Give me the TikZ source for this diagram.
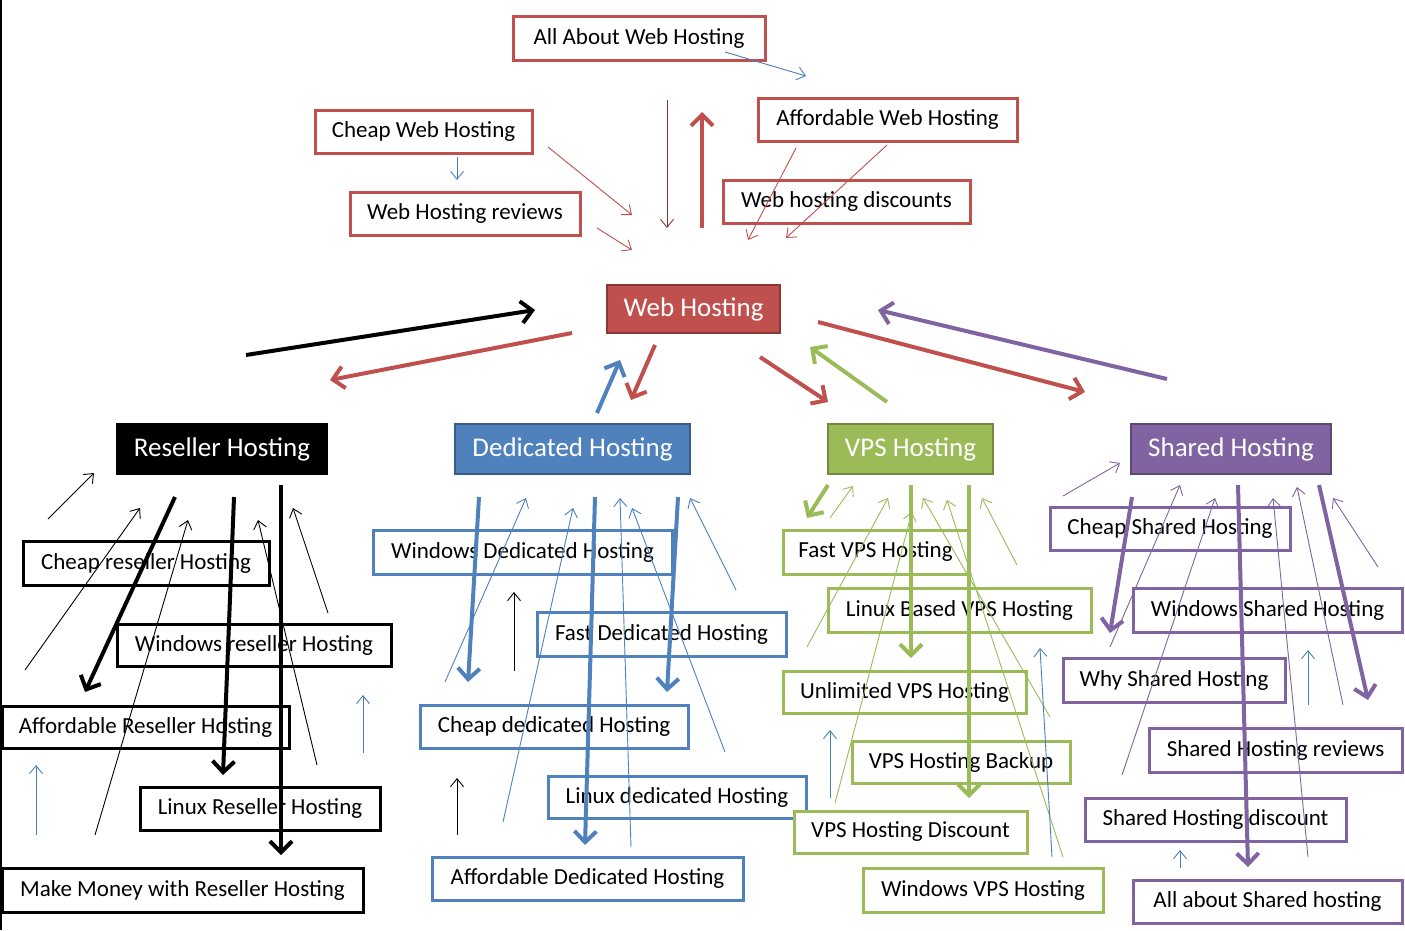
\documentclass[tikz,border=0pt]{standalone}
\usepackage{fontspec}
\setmainfont{Carlito}
\usetikzlibrary{arrows.meta}
\definecolor{cRed}{HTML}{C0504D}
\definecolor{cRedD}{HTML}{8C3836}
\definecolor{cBlue}{HTML}{4F81BD}
\definecolor{cBlueD}{HTML}{385D8A}
\definecolor{cGreen}{HTML}{9BBB59}
\definecolor{cGreenD}{HTML}{71893F}
\definecolor{cPurple}{HTML}{8064A2}
\definecolor{cPurpleD}{HTML}{5C4776}
\definecolor{cSteel}{HTML}{4A7EBB}
\definecolor{cDark}{HTML}{7F3330}
\tikzset{
  bx/.style={draw=#1, line width=3pt, fill=white, inner sep=0pt,
    font=\fontsize{23}{27}\selectfont},
  hub/.style={fill=#1, line width=1.5pt, text=white, inner sep=0pt,
    font=\fontsize{27}{31}\selectfont},
  tarr/.style={draw=#1, line width=0.9pt, -{Straight Barb[length=8pt,width=13pt]}},
  Tarr/.style={draw=#1, line width=4pt, -{Straight Barb[length=11pt,width=22pt]}},
}
\begin{document}
\begin{tikzpicture}[x=1pt,y=-1pt]
\useasboundingbox (0,0) rectangle (1405,930);
\fill[white] (0,0) rectangle (1405,930);
\draw[black, line width=2pt] (1,0) -- (1,930);

% ---------- top level ----------
\node[bx=cRed, minimum width=252pt, minimum height=44pt] (allabout) at (639,38) {All About Web Hosting};
\node[bx=cRed, minimum width=217pt, minimum height=43pt] (cheapweb) at (423.5,131.5) {Cheap Web Hosting};
\node[bx=cRed, minimum width=230pt, minimum height=43pt] (webrev) at (465,213.5) {Web Hosting reviews};
\node[bx=cRed, minimum width=259pt, minimum height=43pt] (affweb) at (887.5,119.5) {Affordable Web Hosting};
\node[bx=cRed, minimum width=247pt, minimum height=43pt] (webdisc) at (846.5,201.5) {Web hosting discounts};
\node[hub=cRed, draw=cRedD, minimum width=173pt, minimum height=48pt] (web) at (693.5,309) {Web Hosting};

% ---------- hubs ----------
\node[hub=black, draw=black, minimum width=210pt, minimum height=50pt] (reseller) at (222,449) {Reseller Hosting};
\node[hub=cBlue, draw=cBlueD, minimum width=235pt, minimum height=50pt] (dedicated) at (572.5,449) {Dedicated Hosting};
\node[hub=cGreen, draw=cGreenD, minimum width=165pt, minimum height=50pt] (vps) at (910.5,449) {VPS Hosting};
\node[hub=cPurple, draw=cPurpleD, minimum width=200pt, minimum height=50pt] (shared) at (1231,449) {Shared Hosting};

% ---------- reseller children ----------
\node[bx=black, minimum width=246pt, minimum height=44pt] (r1) at (146,563) {Cheap reseller Hosting};
\node[bx=black, minimum width=274pt, minimum height=42pt] (r2) at (254,645) {Windows reseller Hosting};
\node[bx=black, minimum width=287pt, minimum height=42pt] (r3) at (145.5,727) {Affordable Reseller Hosting};
\node[bx=black, minimum width=240pt, minimum height=43pt] (r4) at (260,808.5) {Linux Reseller Hosting};
\node[bx=black, minimum width=361pt, minimum height=44pt] (r5) at (182.5,890) {Make Money with Reseller Hosting};

% ---------- dedicated children ----------
\node[bx=cBlue, minimum width=299pt, minimum height=44pt] (d1) at (522.5,552) {Windows Dedicated Hosting};
\node[bx=cBlue, minimum width=249pt, minimum height=44pt] (d2) at (661.5,634) {Fast Dedicated Hosting};
\node[bx=cBlue, minimum width=268pt, minimum height=43pt] (d3) at (554,726.5) {Cheap dedicated Hosting};
\node[bx=cBlue, minimum width=258pt, minimum height=42pt] (d4) at (677,797) {Linux dedicated Hosting};
\node[bx=cBlue, minimum width=311pt, minimum height=43pt] (d5) at (587.5,878.5) {Affordable Dedicated Hosting};

% ---------- vps children ----------
\node[bx=cGreen, minimum width=185pt, minimum height=44pt] (v1) at (875.5,552) {Fast VPS Hosting};
\node[bx=cGreen, minimum width=263pt, minimum height=44pt] (v2) at (959.5,610) {Linux Based VPS Hosting};
\node[bx=cGreen, minimum width=243pt, minimum height=42pt] (v3) at (904.5,692) {Unlimited VPS Hosting};
\node[bx=cGreen, minimum width=218pt, minimum height=42pt] (v4) at (961,762) {VPS Hosting Backup};
\node[bx=cGreen, minimum width=233pt, minimum height=42pt] (v5) at (910.5,832) {VPS Hosting Discount};
\node[bx=cGreen, minimum width=240pt, minimum height=44pt] (v6) at (983,890) {Windows VPS Hosting};

% ---------- shared children ----------
\node[bx=cPurple, minimum width=240pt, minimum height=43pt] (s1) at (1170,528.5) {Cheap Shared Hosting};
\node[bx=cPurple, minimum width=269pt, minimum height=44pt] (s2) at (1267.5,610) {Windows Shared Hosting};
\node[bx=cPurple, minimum width=222pt, minimum height=44pt] (s3) at (1174,680) {Why Shared Hosting};
\node[bx=cPurple, minimum width=253pt, minimum height=44pt] (s4) at (1275.5,750) {Shared Hosting reviews};
\node[bx=cPurple, minimum width=261pt, minimum height=43pt] (s5) at (1215.5,819.5) {Shared Hosting discount};
\node[bx=cPurple, minimum width=269pt, minimum height=43pt] (s6) at (1267.5,901.5) {All about Shared hosting};

% ---------- top arrows ----------
\draw[tarr=cSteel] (725,52) -- (806,76);
\draw[tarr=cSteel] (457,157) -- (457,180);
\draw[tarr=cRed] (548,147) -- (632,215);
\draw[tarr=cRed] (597,228) -- (632,250);
\draw[tarr=cDark] (667,100) -- (667,228);
\draw[Tarr=cRed] (702,228) -- (702,112);
\draw[tarr=cRed] (796,148) -- (748,240);
\draw[tarr=cRed] (887,145) -- (786,238);

% ---------- middle arrows ----------
\draw[Tarr=black] (246,355) -- (535,310);
\draw[Tarr=cRed] (572,333) -- (330,380);
\draw[Tarr=cBlue] (597,413) -- (620,360);
\draw[Tarr=cRed] (655,345) -- (631,400);
\draw[Tarr=cRed] (760,357) -- (828,402);
\draw[Tarr=cGreen] (887,402) -- (810,347);
\draw[Tarr=cRed] (818,322) -- (1085,392);
\draw[Tarr=cPurple] (1167,379) -- (878,310);

% ---------- reseller arrows ----------
\draw[tarr=black] (48,519) -- (94,473);
\draw[tarr=black] (25,670) -- (140,508);
\draw[tarr=black] (95,835) -- (188,520);
\draw[tarr=black] (317,765) -- (258,520);
\draw[tarr=black] (328,613) -- (293,508);
\draw[tarr=cSteel] (36,835) -- (36,765);
\draw[tarr=cSteel] (363,753) -- (363,695);
\draw[Tarr=black] (175,497) -- (85,692);
\draw[Tarr=black] (234,497) -- (223,775);
\draw[Tarr=black] (281,485) -- (281,855);

% ---------- dedicated arrows ----------
\draw[tarr=cBlue] (445,682) -- (526,498);
\draw[tarr=cBlue] (503,822) -- (573,508);
\draw[tarr=cBlue] (631,847) -- (620,498);
\draw[tarr=cBlue] (725,752) -- (632,508);
\draw[tarr=cBlue] (736,590) -- (690,498);
\draw[tarr=black] (514,671) -- (514,592);
\draw[tarr=black] (457,835) -- (457,778);
\draw[Tarr=cBlue] (479,497) -- (468,682);
\draw[Tarr=cBlue] (595,497) -- (585,845);
\draw[Tarr=cBlue] (678,497) -- (667,692);

% ---------- vps arrows ----------
\draw[tarr=cGreen] (830,518) -- (853,486);
\draw[tarr=cGreen] (807,647) -- (888,498);
\draw[tarr=cGreen] (835,803) -- (912,512);
\draw[tarr=cGreen] (1017,565) -- (982,498);
\draw[tarr=cGreen] (1050,717) -- (923,498);
\draw[tarr=cGreen] (1063,857) -- (947,500);
\draw[tarr=cSteel] (830,798) -- (830,730);
\draw[tarr=cSteel] (1052,857) -- (1040,648);
\draw[Tarr=cGreen] (828,485) -- (807,518);
\draw[Tarr=cGreen] (911,485) -- (911,658);
\draw[Tarr=cGreen] (969,485) -- (969,798);

% ---------- shared arrows ----------
\draw[tarr=cPurple] (1063,496) -- (1120,463);
\draw[tarr=cPurple] (1110,647) -- (1180,485);
\draw[tarr=cPurple] (1122,775) -- (1215,498);
\draw[tarr=cPurple] (1308,857) -- (1273,498);
\draw[tarr=cPurple] (1343,705) -- (1297,487);
\draw[tarr=cPurple] (1378,567) -- (1333,498);
\draw[tarr=cSteel] (1308,705) -- (1308,650);
\draw[tarr=cSteel] (1180,868) -- (1180,850);
\draw[Tarr=cPurple] (1132,497) -- (1110,633);
\draw[Tarr=cPurple] (1238,485) -- (1248,867);
\draw[Tarr=cPurple] (1319,485) -- (1368,700);
\end{tikzpicture}
\end{document}
